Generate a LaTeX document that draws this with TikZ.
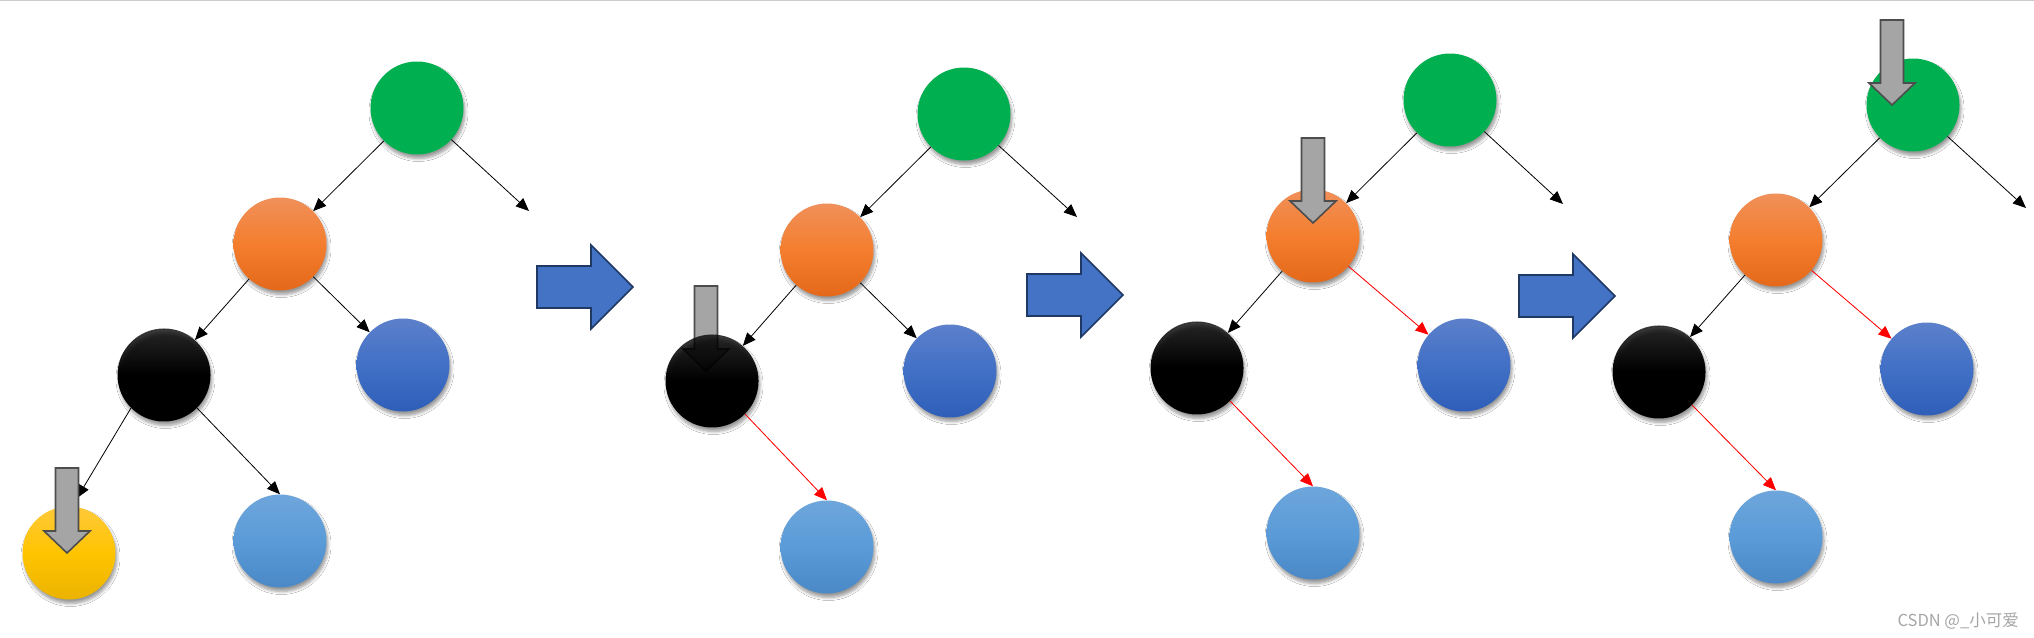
\documentclass[tikz,border=0pt]{standalone}
\usepackage{fontspec}
\newfontfamily\cjk{Noto Sans CJK SC}
\usetikzlibrary{arrows.meta,shadows.blur,fadings}
\definecolor{grn}{HTML}{00B050}
\definecolor{orA}{HTML}{F0905A}
\definecolor{orB}{HTML}{F47E2E}
\definecolor{orC}{HTML}{E4681A}
\definecolor{buA}{HTML}{5C80CA}
\definecolor{buB}{HTML}{4170C6}
\definecolor{buC}{HTML}{2E5EB8}
\definecolor{lbA}{HTML}{6EA6DB}
\definecolor{lbB}{HTML}{5A9BD8}
\definecolor{lbC}{HTML}{4A88C6}
\definecolor{ylA}{HTML}{FFC93A}
\definecolor{ylB}{HTML}{FFC400}
\definecolor{ylC}{HTML}{EBB300}
\definecolor{arrfill}{HTML}{4472C4}
\definecolor{arrline}{HTML}{1F3864}
\definecolor{gptfill}{HTML}{A5A5A5}
\definecolor{gptline}{HTML}{4D4D4D}
\tikzfading[name=blkfade, top color=transparent!25, bottom color=transparent!0, middle color=transparent!0]
\tikzset{
  nd/.style={circle, minimum size=93pt, inner sep=0pt,
    blur shadow={shadow xshift=1.5pt, shadow yshift=-4pt, shadow blur radius=3pt, shadow blur steps=6, shadow opacity=40}},
  gnode/.style={nd, fill=grn},
  onode/.style={nd, top color=orA, bottom color=orC, middle color=orB},
  knode/.style={nd, fill=black, path fading=blkfade},
  bnode/.style={nd, top color=buA, bottom color=buC, middle color=buB},
  lnode/.style={nd, top color=lbA, bottom color=lbC, middle color=lbB},
  ynode/.style={nd, top color=ylA, bottom color=ylC, middle color=ylB},
  link/.style={draw=black, line width=0.8pt, -{Triangle[length=13pt,width=11pt]}},
  redlink/.style={link, draw=red, fill=red},
  bluearr/.style={fill=arrfill, draw=arrline, line width=1.6pt, line join=miter},
  grayptr/.style={fill=gptfill, draw=gptline, line width=1.6pt, line join=miter},
  bigarrow/.pic={\path[bluearr] (0,-21)--(54,-21)--(54,-42)--(96,0)--(54,42)--(54,21)--(0,21)--cycle;},
  pointer/.pic={\path[grayptr] (-11.5,-85)--(11.5,-85)--(11.5,-22)--(23,-22)--(0,0)--(-23,-22)--(-11.5,-22)--cycle;}
}
\begin{document}
\begin{tikzpicture}[x=1pt,y=-1pt]
\useasboundingbox (0,0) rectangle (2034,637);
\fill[white] (0,0) rectangle (2034,637);
\draw[gray!40, line width=1pt] (0,0.5) -- (2034,0.5);

% ---- tree 1
\node[gnode] (g1) at (417,108) {};
\node[onode] (o1) at (280,244) {};
\node[knode] (k1) at (164,375) {};
\node[bnode] (b1) at (403,365) {};
\node[ynode] (y1) at (69,553) {};
\node[lnode] (l1) at (280,541) {};
\coordinate (d1) at (529,211);
\draw[link] (g1) -- (o1);
\draw[link] (g1) -- (d1);
\draw[link] (o1) -- (k1);
\draw[link] (o1) -- (b1);
\draw[link] (k1.225) -- ([yshift=9pt]y1.80);
\draw[link] (k1.-45) -- (l1.north);
\pic at (67,553) {pointer};

% ---- arrow 1
\pic at (537,287) {bigarrow};

% ---- tree 2
\node[gnode] (g2) at (964,114) {};
\node[onode] (o2) at (827,250) {};
\pic at (706,371) {pointer};
\node[knode] (k2) at (712,381) {};
\node[bnode] (b2) at (950,371) {};
\node[lnode] (l2) at (827,547) {};
\coordinate (d2) at (1077,217);
\draw[link] (g2) -- (o2);
\draw[link] (g2) -- (d2);
\draw[link] (o2) -- (k2);
\draw[link] (o2) -- (b2);
\draw[redlink] (k2.-45) -- (l2.north);

% ---- arrow 2
\pic at (1027,295) {bigarrow};

% ---- tree 3
\node[gnode] (g3) at (1450,100) {};
\node[onode] (o3) at (1313,236) {};
\node[knode] (k3) at (1197,368) {};
\node[bnode] (b3) at (1464,365) {};
\node[lnode] (l3) at (1313,533) {};
\coordinate (d3) at (1563,204);
\draw[link] (g3) -- (o3);
\draw[link] (g3) -- (d3);
\draw[link] (o3) -- (k3);
\draw[redlink] (o3) -- (b3);
\draw[redlink] (k3.-45) -- (l3.north);
\pic at (1313,223) {pointer};

% ---- arrow 3
\pic at (1519,296) {bigarrow};

% ---- tree 4
\node[gnode] (g4) at (1913,105) {};
\node[onode] (o4) at (1776,240) {};
\node[knode] (k4) at (1659,372) {};
\node[bnode] (b4) at (1927,369) {};
\node[lnode] (l4) at (1776,537) {};
\coordinate (d4) at (2026,208);
\draw[link] (g4) -- (o4);
\draw[link] (g4) -- (d4);
\draw[link] (o4) -- (k4);
\draw[redlink] (o4) -- (b4);
\draw[redlink] (k4.-45) -- (l4.north);
\pic at (1892,105) {pointer};

% ---- watermark
\node[anchor=east, inner sep=0pt, text=gray!70, font=\cjk\fontsize{16.5}{16.5}\selectfont] (wm) at (2019,621) {CSDN @\_小可爱};
\end{tikzpicture}
\end{document}
